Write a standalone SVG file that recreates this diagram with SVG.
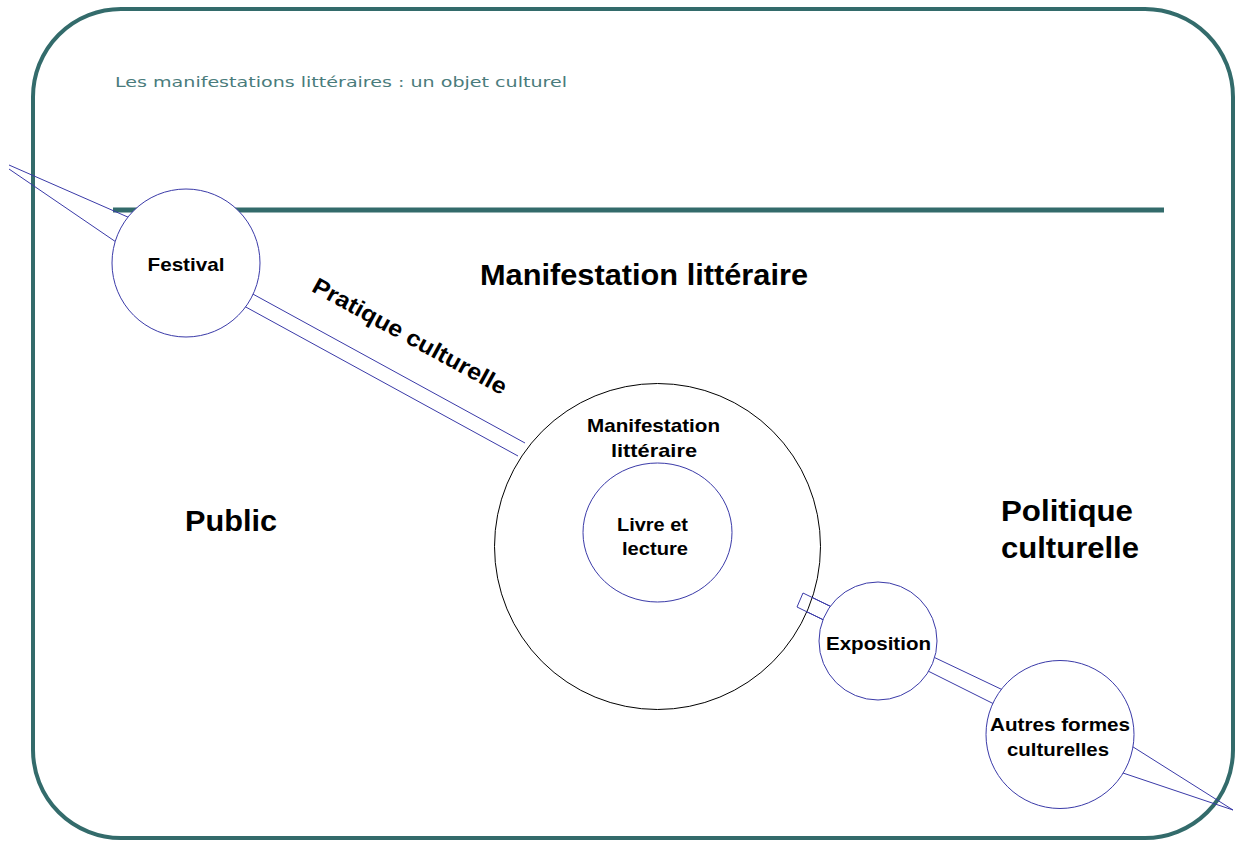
<svg xmlns="http://www.w3.org/2000/svg" width="1236" height="841" viewBox="0 0 1236 841">
<style>
.frame{fill:none;stroke:#336b6b;stroke-width:4}
.rule{stroke:#336b6b;stroke-width:5}
.blue{fill:none;stroke:#3a3aa8;stroke-width:1}
.node{fill:#fff;stroke:#3a3aa8;stroke-width:1}
.big{fill:#fff;stroke:#000;stroke-width:1}
.t{font-family:"Liberation Sans",Arial,sans-serif;font-weight:bold;fill:#000;text-anchor:middle}
.s{font-size:19px}
.l{font-size:30px}
.title{font-family:"DejaVu Sans","Liberation Sans",sans-serif;font-size:14px;fill:#4a7c7c}
</style>
<rect class="frame" x="33" y="9" width="1200" height="829" rx="88" ry="88"/>
<line class="rule" x1="113" y1="210" x2="1164" y2="210"/>
<text class="title" x="115" y="87" textLength="452" lengthAdjust="spacingAndGlyphs">Les manifestations littéraires : un objet culturel</text>
<g id="connectors">
<line class="blue" x1="9" y1="165" x2="130" y2="218"/>
<line class="blue" x1="9" y1="169" x2="116" y2="242"/>
<line class="blue" x1="240" y1="287" x2="525" y2="443"/>
<line class="blue" x1="233" y1="300" x2="518" y2="456"/>
<polygon class="blue" points="803,593 840,611 834,625 797,607"/>
<line class="blue" x1="925" y1="653" x2="1005" y2="691"/>
<line class="blue" x1="920" y1="667" x2="996" y2="705"/>
<line class="blue" x1="1130" y1="745" x2="1233" y2="810"/>
<line class="blue" x1="1120" y1="772" x2="1233" y2="810"/>
</g>
<g id="festival">
<circle class="node" cx="186" cy="263" r="74"/>
<text class="t s" x="186" y="271" textLength="77" lengthAdjust="spacingAndGlyphs">Festival</text>
</g>
<g id="pratique">
<text class="t" font-size="23" transform="translate(406,343) rotate(28.7)" textLength="218" lengthAdjust="spacingAndGlyphs">Pratique culturelle</text>
</g>
<g id="manifestation-title">
<text class="t l" x="644" y="285" textLength="328" lengthAdjust="spacingAndGlyphs">Manifestation littéraire</text>
</g>
<g id="manifestation">
<circle class="big" cx="657.5" cy="546.5" r="163"/>
<text class="t s" x="653.5" y="432" textLength="133" lengthAdjust="spacingAndGlyphs">Manifestation</text>
<text class="t s" x="654" y="457" textLength="86" lengthAdjust="spacingAndGlyphs">littéraire</text>
</g>
<polygon class="blue" points="803,593 840,611 834,625 797,607" fill="none"/>
<g id="livre">
<ellipse class="node" cx="657.5" cy="532.5" rx="74.5" ry="69.5"/>
<text class="t s" x="652.5" y="531" textLength="71" lengthAdjust="spacingAndGlyphs">Livre et</text>
<text class="t s" x="655" y="555" textLength="66" lengthAdjust="spacingAndGlyphs">lecture</text>
</g>
<g id="public">
<text class="t l" x="231" y="531" textLength="92" lengthAdjust="spacingAndGlyphs">Public</text>
</g>
<g id="politique">
<text class="t l" x="1067" y="521" textLength="132" lengthAdjust="spacingAndGlyphs">Politique</text>
<text class="t l" x="1070" y="558" textLength="138" lengthAdjust="spacingAndGlyphs">culturelle</text>
</g>
<g id="exposition">
<circle class="node" cx="878" cy="641" r="59"/>
<text class="t s" x="878.5" y="650" textLength="105" lengthAdjust="spacingAndGlyphs">Exposition</text>
</g>
<g id="autres">
<circle class="node" cx="1060" cy="734.5" r="74"/>
<text class="t s" x="1060" y="731" textLength="140" lengthAdjust="spacingAndGlyphs">Autres formes</text>
<text class="t s" x="1058" y="756" textLength="102" lengthAdjust="spacingAndGlyphs">culturelles</text>
</g>
</svg>
